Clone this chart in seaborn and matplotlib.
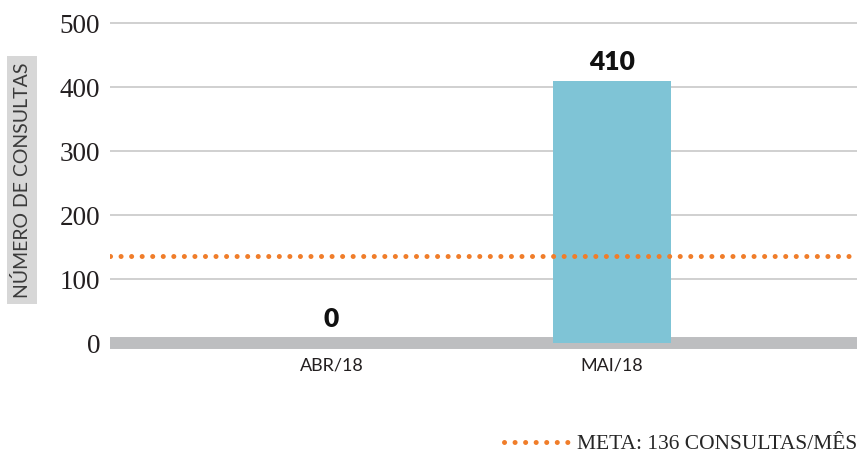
import matplotlib
matplotlib.use("Agg")
import matplotlib.pyplot as plt
import seaborn as sns
import pandas as pd

# data
meses = ["ABR/18", "MAI/18"]
consultas = [0, 410]
meta = 136
meta_label = "META: 136 CONSULTAS/MÊS"
yticks = [0, 100, 200, 300, 400, 500]

sns.set_style("white")
plt.rcParams["font.family"] = ["Lato", "DejaVu Sans"]

df = pd.DataFrame({"mes": meses, "consultas": consultas})

fig = plt.figure(figsize=(8.57, 4.57), dpi=100)
ax = fig.add_axes([0.1284, 0.2354, 0.8716, 0.7212])

sns.barplot(data=df, x="mes", y="consultas", color="#7FC4D6", saturation=1,
            width=0.42, ax=ax, zorder=3, edgecolor="none", linewidth=0)

# thick gray base and target line
ax.axhline(0, color="#BDBEC0", lw=8.6, zorder=2)
ax.axhline(meta, color="#F07D2A", lw=3.6, linestyle=(0, (0.01, 2.1)),
           dash_capstyle="round", zorder=4, label=meta_label)

for i, v in enumerate(consultas):
    ax.annotate(str(v), (i, v), xytext=(0, 5 if v > 0 else 9),
                textcoords="offset points", ha="center", va="bottom",
                fontsize=19, fontweight="heavy", color="#111111")

ax.set_xlim(-0.79, 1.875)
ax.set_ylim(-10, 505)
ax.set_yticks(yticks)
ax.set_yticklabels([str(t) for t in yticks], family="Liberation Serif",
                   fontsize=19.5, color="#231F20")
ax.yaxis.grid(True, color="#C8C8C8", lw=1.2)
ax.set_axisbelow(True)
ax.tick_params(axis="y", length=0, pad=7)
ax.tick_params(axis="x", length=0, pad=6, labelsize=13, colors="#231F20")
ax.set_xlabel("")
ax.set_ylabel("")
sns.despine(ax=ax, left=True, bottom=True)

fig.text(22 / 857, 1 - 180 / 457, "NÚMERO DE CONSULTAS", rotation=90,
         ha="center", va="center", fontsize=14, color="#3A3A3A",
         bbox=dict(boxstyle="square,pad=0.3", fc="#D7D7D7", ec="none"))

ax.legend(loc="lower right", bbox_to_anchor=(1.0, 0.006),
          bbox_transform=fig.transFigure, frameon=False, handlelength=3.2,
          handletextpad=0.2, borderaxespad=0, borderpad=0,
          prop={"family": "Liberation Serif", "size": 15.5})

fig.savefig("out.png", dpi=100)
